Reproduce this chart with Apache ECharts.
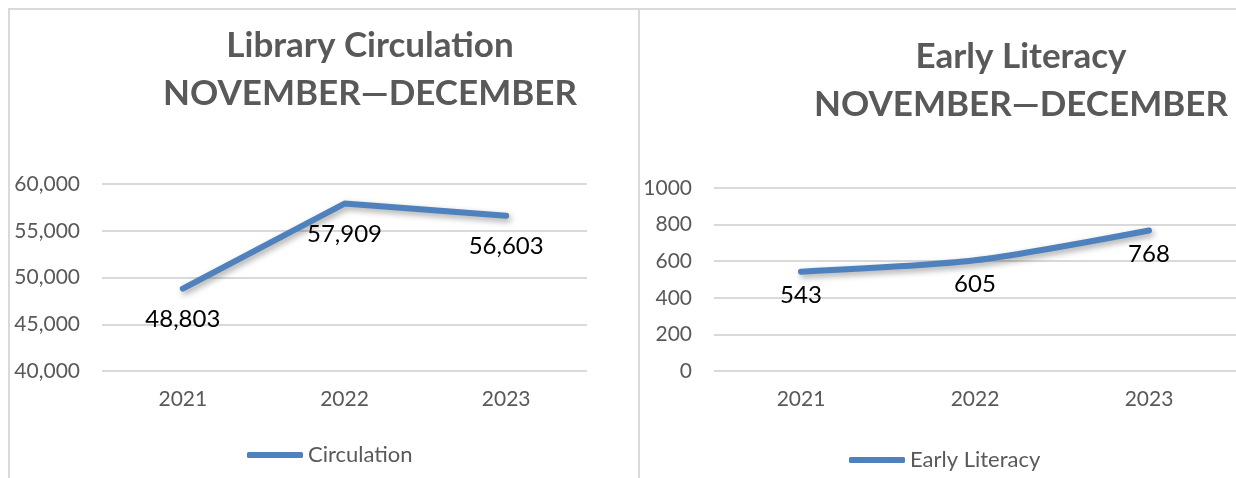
<!DOCTYPE html>
<html>
<head>
<meta charset="utf-8">
<script src="https://cdn.jsdelivr.net/npm/echarts@6/dist/echarts.min.js"></script>
<style>
  html, body { margin: 0; padding: 0; background: #fff; }
  #chart { width: 1236px; height: 478px; }
</style>
</head>
<body>
<div id="chart"></div>
<script>
// ---- data ----
const years = ['2021', '2022', '2023'];
const circulationValues = [48803, 57909, 56603];
const literacyValues = [543, 605, 768];
const circulationTitle = 'Library Circulation\nNOVEMBER\u2014DECEMBER';
const literacyTitle = 'Early Literacy\nNOVEMBER\u2014DECEMBER';
const circulationName = 'Circulation';
const literacyName = 'Early Literacy';

// ---- styles ----
const FONT = 'Lato';
const GRAY = '#595959';
const BLUE = '#4f81bd';
const GRID = '#d9d9d9';

const fmt = v => Number(v).toLocaleString('en-US');

const chart = echarts.init(document.getElementById('chart'), null, { renderer: 'canvas' });

function titleCfg(text, x, top) {
  return {
    text: text,
    left: x,
    top: top,
    padding: 0,
    textAlign: 'center',
    textStyle: { fontFamily: FONT, fontWeight: 'bold', fontSize: 35, color: GRAY, lineHeight: 48 }
  };
}

function yAxisCfg(gridIndex, min, max, interval, formatter) {
  return {
    type: 'value', gridIndex: gridIndex, min: min, max: max, interval: interval,
    axisLine: { show: false }, axisTick: { show: false },
    axisLabel: { fontFamily: FONT, fontSize: 21, color: GRAY, margin: 22, formatter: formatter },
    splitLine: { lineStyle: { color: GRID, width: 2 } }
  };
}

function xAxisCfg(gridIndex) {
  return {
    type: 'category', gridIndex: gridIndex, data: years, boundaryGap: true,
    axisLine: { show: false }, axisTick: { show: false },
    axisLabel: { fontFamily: FONT, fontSize: 21, color: GRAY, margin: 18 }
  };
}

function seriesCfg(name, idx, values, smooth, distance) {
  return {
    name: name, type: 'line', xAxisIndex: idx, yAxisIndex: idx,
    data: values, smooth: smooth,
    symbol: 'circle', symbolSize: 1, showSymbol: true,
    lineStyle: {
      color: BLUE, width: 6, cap: 'round', join: 'round',
      shadowColor: 'rgba(0,0,0,0.35)', shadowBlur: 6, shadowOffsetX: 2, shadowOffsetY: 3
    },
    itemStyle: { color: BLUE },
    label: {
      show: true, position: 'bottom', distance: distance,
      fontFamily: FONT, fontSize: 24, color: '#000',
      formatter: p => fmt(p.value)
    },
    labelLayout: { hideOverlap: false },
    emphasis: { disabled: true },
    animation: false
  };
}

function legendCfg(name, left, top) {
  return {
    data: [name], left: left, top: top, padding: 0,
    icon: 'roundRect', itemWidth: 56, itemHeight: 6, itemGap: 0,
    textStyle: { fontFamily: FONT, fontSize: 22, color: GRAY }
  };
}

chart.setOption({
  backgroundColor: '#fff',
  animation: false,
  title: [
    titleCfg(circulationTitle, 370, 22),
    titleCfg(literacyTitle, 1021, 33)
  ],
  legend: [
    legendCfg(circulationName, 247, 444),
    legendCfg(literacyName, 849, 449)
  ],
  grid: [
    { left: 102, top: 184, width: 485, height: 187 },
    { left: 714, top: 188, width: 522, height: 183 }
  ],
  xAxis: [xAxisCfg(0), xAxisCfg(1)],
  yAxis: [
    yAxisCfg(0, 40000, 60000, 5000, v => fmt(v)),
    yAxisCfg(1, 0, 1000, 200, v => String(v))
  ],
  series: [
    seriesCfg(circulationName, 0, circulationValues, false, 18),
    seriesCfg(literacyName, 1, literacyValues, 0.25, 11)
  ],
  graphic: [
    { type: 'line', silent: true, shape: { x1: 8, y1: 9, x2: 1236, y2: 9 }, style: { stroke: GRID, lineWidth: 2 } },
    { type: 'line', silent: true, shape: { x1: 9, y1: 9, x2: 9, y2: 478 }, style: { stroke: GRID, lineWidth: 2 } },
    { type: 'line', silent: true, shape: { x1: 639, y1: 9, x2: 639, y2: 478 }, style: { stroke: GRID, lineWidth: 2 } }
  ]
});
</script>
</body>
</html>
